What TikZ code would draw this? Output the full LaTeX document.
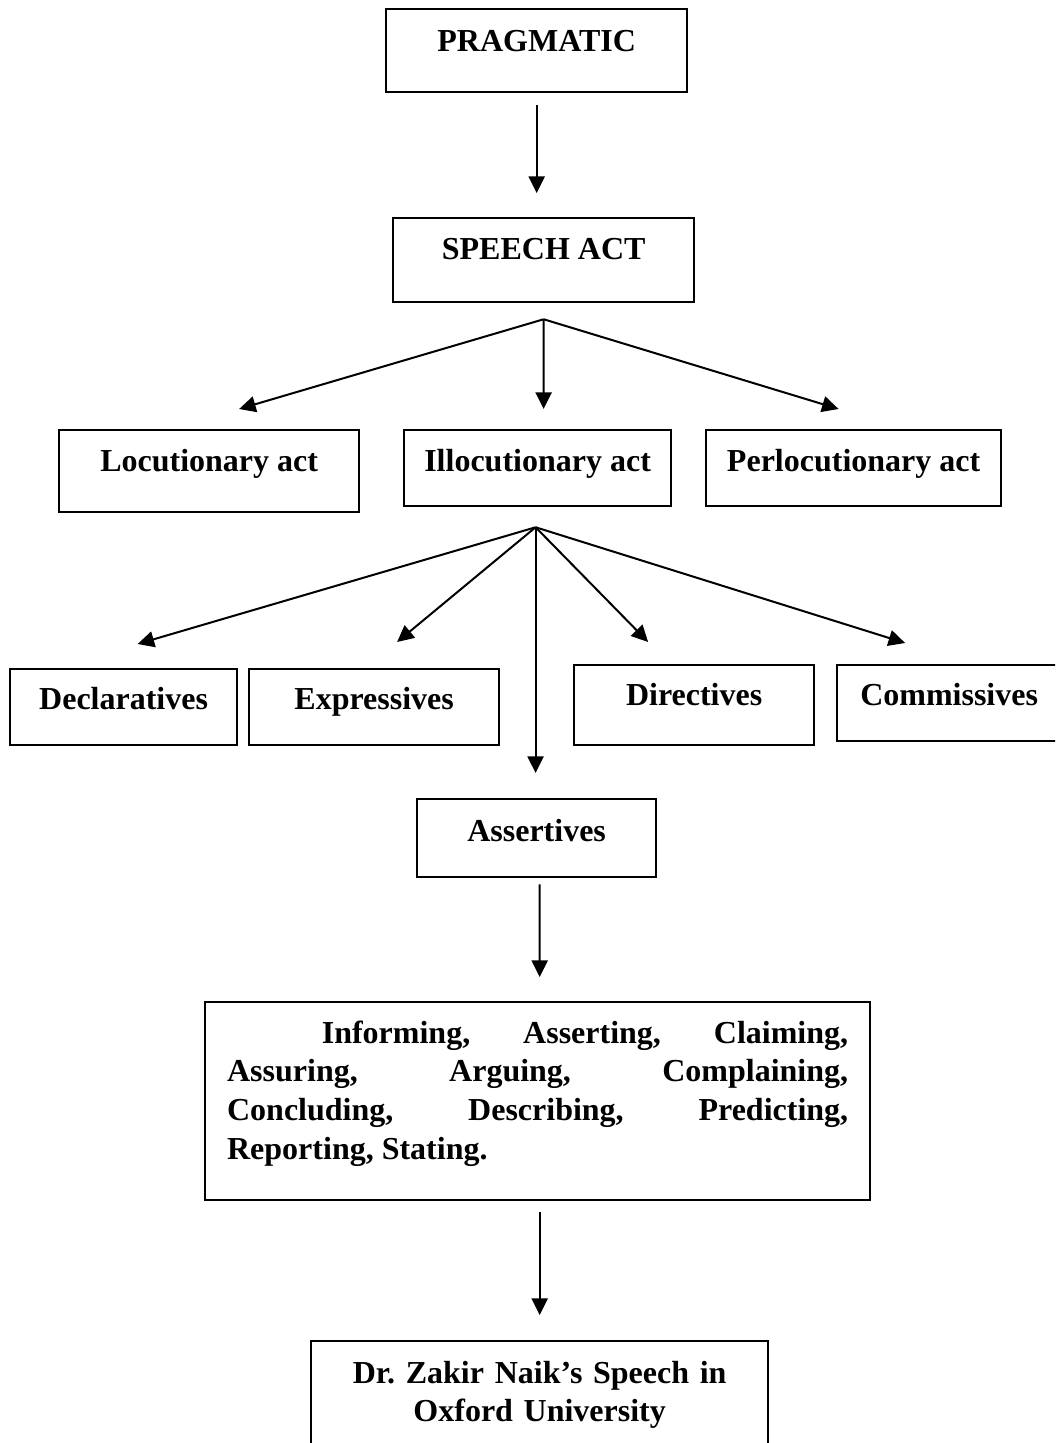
\documentclass[tikz,border=0pt]{standalone}
\usepackage{fontspec}
\setmainfont{Liberation Serif}
\usetikzlibrary{arrows.meta,calc}

\begin{document}
\begin{tikzpicture}[x=.375pt,y=-.375pt,every node/.style={font=\fontsize{12}{14.5}\selectfont\bfseries},
    box/.style={draw,line width=.85pt,inner sep=0pt,anchor=north west},
    arr/.style={line width=.75pt,-{Triangle[length=6.2pt,width=6pt]}}]
    \clip (0,0) rectangle (1055,1443);
    \node[box,minimum width=112.9pt,text height=15.75pt,text depth=15.4pt] (prag) at (385,8) {PRAGMATIC};
    \node[box,minimum width=112.9pt,text height=15.4pt,text depth=16.1pt] (speech) at (392,217) {SPEECH ACT};
    \node[box,minimum width=112.5pt,text height=15.4pt,text depth=15.4pt] (loc) at (58,429) {Locutionary act};
    \node[box,minimum width=100.1pt,text height=15.4pt,text depth=13.1pt] (ill) at (403,429) {Illocutionary act};
    \node[box,minimum width=110.6pt,text height=15.4pt,text depth=13.1pt] (perl) at (705,429) {Perlocutionary act};
    \node[box,minimum width=85.1pt,text height=15pt,text depth=13.5pt] (decl) at (9,668) {Declaratives};
    \node[box,minimum width=93.75pt,text height=15pt,text depth=13.5pt] (expr) at (248,668) {Expressives};
    \node[box,minimum width=90pt,text height=15pt,text depth=15pt] (dir) at (573,664) {Directives};
    \node[box,minimum width=84pt,text height=15pt,text depth=13.5pt] (comm) at (836,664) {Commissives};
    \node[box,minimum width=89.6pt,text height=15.75pt,text depth=13.5pt] (assert) at (416,798) {Assertives};
    \node[box,inner xsep=8.25pt,text width=232.9pt,align=justify,text height=15.4pt,text depth=58.9pt] (info) at (204,1001) {\hspace*{35.5pt}Informing, Asserting, Claiming,\linebreak Assuring, Arguing, Complaining,\linebreak Concluding, Describing, Predicting,\linebreak Reporting, Stating.};
    \node[box,text width=171.4pt,align=center,text height=15.75pt,text depth=33pt] (zak) at (310,1340) {Dr.\ Zakir Naik’s Speech in\\ Oxford University};
    \draw[arr] ($(prag.south)+(0,12)$) -- ($(speech.north)+(-7,-24)$);
    \coordinate (hubA) at ($(speech.south)+(0,16)$);
    \foreach \n/\dx in {loc/30,ill/6,perl/-15} \draw[arr] (hubA) -- ($(\n.north)+(\dx,-20)$);
    \coordinate (hubB) at ($(ill.south)+(-2,20)$);
    \foreach \n/\dx/\dy in {decl/14/-24,expr/23/-26,dir/-46/-22,comm/-44/-21,assert/-1/-25} \draw[arr] (hubB) -- ($(\n.north)+(\dx,\dy)$);
    \draw[arr] ($(assert.south)+(3,6)$) -- ($(info.north)+(2,-24)$);
    \draw[arr] ($(info.south)+(2,11)$) -- ($(zak.north)+(0,-25)$);
\end{tikzpicture}
\end{document}
